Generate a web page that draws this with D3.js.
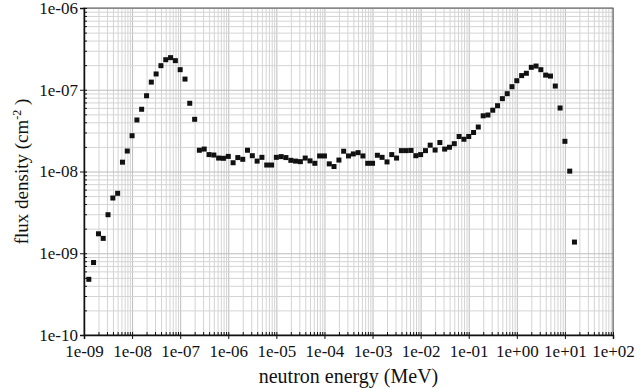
<!DOCTYPE html>
<html>
<head>
<meta charset="utf-8">
<script src="https://cdn.jsdelivr.net/npm/d3@7"></script>
<style>
	body { margin: 0; background: #fff; }
	svg text { font-family: "Liberation Serif", "Times New Roman", serif; fill: #111; }
	.grid line { stroke: #d4d4d4; stroke-width: 1; }
	.grid path { display: none; }
	.axis path, .axis line { stroke: #111; }
</style>
</head>
<body>
<div id="chart"></div>
<script>
//Energia dos bins (MeV)
var energy = [
	1.26e-9, 1.58e-9, 2.00e-9, 2.51e-9, 3.16e-9, 3.98e-9, 5.01e-9, 6.31e-9, 7.94e-9, 1.00e-8,
	1.26e-8, 1.58e-8, 2.00e-8, 2.51e-8, 3.16e-8, 3.98e-8, 5.01e-8, 6.31e-8, 7.94e-8, 1.00e-7,
	1.26e-7, 1.58e-7, 2.00e-7, 2.51e-7, 3.16e-7, 3.98e-7, 5.01e-7, 6.31e-7, 7.94e-7, 1.00e-6,
	1.26e-6, 1.58e-6, 2.00e-6, 2.51e-6, 3.16e-6, 3.98e-6, 5.01e-6, 6.31e-6, 7.94e-6, 1.00e-5,
	1.26e-5, 1.58e-5, 2.00e-5, 2.51e-5, 3.16e-5, 3.98e-5, 5.01e-5, 6.31e-5, 7.94e-5, 1.00e-4,
	1.26e-4, 1.58e-4, 2.00e-4, 2.51e-4, 3.16e-4, 3.98e-4, 5.01e-4, 6.31e-4, 7.94e-4, 1.00e-3,
	1.26e-3, 1.58e-3, 2.00e-3, 2.51e-3, 3.16e-3, 3.98e-3, 5.01e-3, 6.31e-3, 7.94e-3, 1.00e-2,
	1.26e-2, 1.58e-2, 2.00e-2, 2.51e-2, 3.16e-2, 3.98e-2, 5.01e-2, 6.31e-2, 7.94e-2, 1.00e-1,
	1.26e-1, 1.58e-1, 2.00e-1, 2.51e-1, 3.16e-1, 3.98e-1, 5.01e-1, 6.31e-1, 7.94e-1, 1.00e+0,
	1.26e+0, 1.58e+0, 2.00e+0, 2.51e+0, 3.16e+0, 3.98e+0, 5.01e+0, 6.31e+0, 7.94e+0, 1.00e+1,
	1.26e+1, 1.58e+1
];
//Densidade de fluxo (cm-2)
var flux = [
	4.8e-10, 7.7e-10, 1.73e-9, 1.52e-9, 2.96e-9, 4.74e-9, 5.41e-9, 1.30e-8, 1.78e-8, 2.74e-8,
	4.27e-8, 5.77e-8, 8.45e-8, 1.24e-7, 1.56e-7, 1.97e-7, 2.33e-7, 2.47e-7, 2.27e-7, 1.76e-7,
	1.35e-7, 6.83e-8, 4.35e-8, 1.82e-8, 1.88e-8, 1.61e-8, 1.59e-8, 1.46e-8, 1.45e-8, 1.53e-8,
	1.28e-8, 1.48e-8, 1.41e-8, 1.82e-8, 1.56e-8, 1.34e-8, 1.49e-8, 1.20e-8, 1.20e-8, 1.49e-8,
	1.52e-8, 1.48e-8, 1.37e-8, 1.34e-8, 1.32e-8, 1.46e-8, 1.35e-8, 1.26e-8, 1.55e-8, 1.55e-8,
	1.24e-8, 1.15e-8, 1.38e-8, 1.77e-8, 1.55e-8, 1.64e-8, 1.70e-8, 1.55e-8, 1.26e-8, 1.26e-8,
	1.58e-8, 1.49e-8, 1.31e-8, 1.61e-8, 1.46e-8, 1.80e-8, 1.80e-8, 1.81e-8, 1.56e-8, 1.61e-8,
	1.80e-8, 2.10e-8, 1.83e-8, 2.26e-8, 1.88e-8, 1.98e-8, 2.19e-8, 2.68e-8, 2.48e-8, 2.68e-8,
	3.00e-8, 3.50e-8, 4.80e-8, 4.91e-8, 5.62e-8, 6.38e-8, 7.78e-8, 8.95e-8, 1.09e-7, 1.29e-7,
	1.49e-7, 1.59e-7, 1.88e-7, 1.95e-7, 1.76e-7, 1.51e-7, 1.47e-7, 1.11e-7, 5.98e-8, 2.34e-8,
	1.01e-8, 1.37e-9
];
//Eixos
var xTickValues = [1e-9, 1e-8, 1e-7, 1e-6, 1e-5, 1e-4, 1e-3, 1e-2, 1e-1, 1e0, 1e1, 1e2];
var xTickLabels = ["1e-09", "1e-08", "1e-07", "1e-06", "1e-05", "1e-04", "1e-03", "1e-02", "1e-01", "1e+00", "1e+01", "1e+02"];
var yTickValues = [1e-10, 1e-9, 1e-8, 1e-7, 1e-6];
var yTickLabels = ["1e-10", "1e-09", "1e-08", "1e-07", "1e-06"];
var xTitle = "neutron energy (MeV)";
var yTitle = "flux density (cm";

(function () {
	'use strict';
	var margin = {top: 8, right: 29, bottom: 54, left: 84};
	var width = 642 - margin.left - margin.right;
	var height = 389 - margin.top - margin.bottom;

	var x = d3.scaleLog().domain([1e-9, 1e2]).range([0, width]);
	var y = d3.scaleLog().domain([1e-10, 1e-6]).range([height, 0]);

	//Marcas 1..9 por década
	var xMinor = x.ticks(12);
	var yMinor = y.ticks(5);

	var svg = d3.select("#chart").append("svg")
		.attr("width", 642)
		.attr("height", 389)
		.append("g")
		.attr("transform", "translate(" + margin.left + "," + margin.top + ")");

	//Grade
	svg.append("g")
		.attr("class", "grid")
		.attr("transform", "translate(0," + height + ")")
		.call(d3.axisBottom(x).tickValues(xMinor).tickSize(-height).tickFormat(""));
	svg.append("g")
		.attr("class", "grid")
		.call(d3.axisLeft(y).tickValues(yMinor).tickSize(-width).tickFormat(""));
	svg.selectAll(".grid .tick").filter(function (d) {
		return Math.abs(Math.log10(d) - Math.round(Math.log10(d))) < 1e-6;
	}).select("line").style("stroke", "#bdbdbd");

	//Moldura superior e direita
	svg.append("rect")
		.attr("x", 0).attr("y", 0)
		.attr("width", width).attr("height", height)
		.style("fill", "none").style("stroke", "#555");

	//Marcas menores para dentro
	svg.append("g")
		.attr("class", "axis")
		.attr("transform", "translate(0," + height + ")")
		.call(d3.axisBottom(x).tickValues(xMinor).tickSize(-3).tickFormat(""));
	svg.append("g")
		.attr("class", "axis")
		.call(d3.axisLeft(y).tickValues(yMinor).tickSize(-3).tickFormat(""));

	//Eixos principais
	var xAxis = svg.append("g")
		.attr("class", "axis")
		.attr("transform", "translate(0," + height + ")")
		.call(d3.axisBottom(x).tickValues(xTickValues).tickSize(4).tickPadding(6)
			.tickFormat(function (d, i) { return xTickLabels[i]; }));
	xAxis.selectAll("text").style("font-size", "17px");
	xAxis.select(".domain").style("stroke-width", 1.5);

	var yAxis = svg.append("g")
		.attr("class", "axis")
		.call(d3.axisLeft(y).tickValues(yTickValues).tickSize(4).tickPadding(2)
			.tickFormat(function (d, i) { return yTickLabels[i]; }));
	yAxis.selectAll("text").style("font-size", "17px");
	yAxis.select(".domain").style("stroke-width", 1.5);

	//Pontos
	var s = 5;
	svg.selectAll(".pt")
		.data(energy)
		.enter()
		.append("rect")
		.attr("class", "pt")
		.attr("x", function (d) { return x(d) - s / 2; })
		.attr("y", function (d, i) { return y(flux[i]) - s / 2; })
		.attr("width", s)
		.attr("height", s)
		.style("fill", "#111");

	//Títulos
	svg.append("text")
		.attr("x", width / 2)
		.attr("y", height + 48)
		.attr("text-anchor", "middle")
		.style("font-size", "20px")
		.text(xTitle);

	var yt = svg.append("text")
		.attr("transform", "translate(" + (28 - margin.left) + "," + (height / 2) + ") rotate(-90)")
		.attr("text-anchor", "middle")
		.style("font-size", "19px");
	yt.append("tspan").text(yTitle);
	yt.append("tspan").attr("dy", -7).style("font-size", "12px").text("-2");
	yt.append("tspan").attr("dy", 7).text(" )");
}());
</script>
</body>
</html>
